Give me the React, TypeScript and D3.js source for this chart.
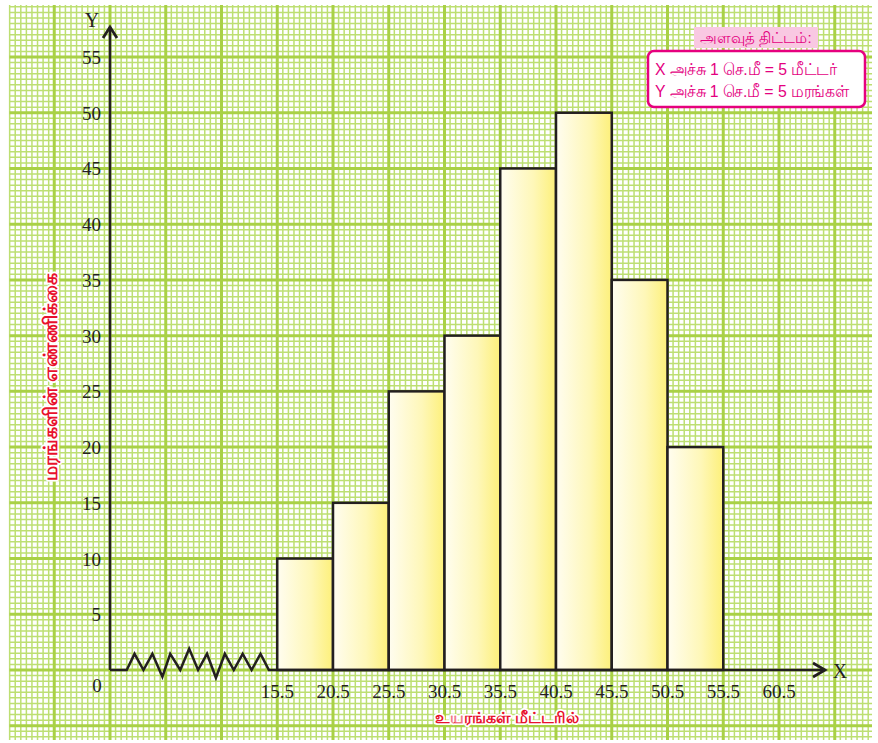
import React from 'react';
import * as d3 from 'd3';

// class intervals (heights in metres) and number of trees
const classStarts = [15.5, 20.5, 25.5, 30.5, 35.5, 40.5, 45.5, 50.5];
const classEnds = [20.5, 25.5, 30.5, 35.5, 40.5, 45.5, 50.5, 55.5];
const treeCounts = [10, 15, 25, 30, 45, 50, 35, 20];

const xTickLabels = ['15.5', '20.5', '25.5', '30.5', '35.5', '40.5', '45.5', '50.5', '55.5', '60.5'];
const yTickValues = [5, 10, 15, 20, 25, 30, 35, 40, 45, 50, 55];

// kink (broken axis) drawn between origin and 15.5, in axis units
const kinkX = [0.5, 2.0, 2.7, 3.5, 4.3, 5.2, 5.9, 6.8, 7.6, 8.4, 9.2, 10.0, 10.8, 11.6, 12.4, 13.2, 14.0, 14.75, 15.5];
const kinkY = [0, 0, 1.45, 0, 1.45, -0.6, 1.45, 0, 1.9, 0, 1.45, -0.7, 1.45, 0, 1.45, 0, 1.45, 0, 0];

const legendTitle = 'அளவுத் திட்டம்:';
const legendLines = ['X அச்சு 1 செ.மீ = 5 மீட்டர்', 'Y அச்சு 1 செ.மீ = 5 மரங்கள்'];
const xTitle = 'உயரங்கள் மீட்டரில்';
const yTitle = 'மரங்களின் எண்ணிக்கை';

const W = 878;
const H = 743;

export default function App() {
  // axis scales (origin stands for 0.5 on x, the gap up to 15.5 is the kink)
  const x = d3.scaleLinear().domain([0.5, 60.5]).range([110, 779]);
  const y = d3.scaleLinear().domain([0, 55]).range([670, 57]);

  // graph-paper grid, 10 minor lines per cm (= 5 units)
  const gx0 = x.invert(9.5), gx1 = x.invert(872);
  const gy0 = y.invert(740), gy1 = y.invert(5);
  const vLines = d3.range(Math.ceil(gx0 / 0.5) * 0.5, gx1, 0.5).map(v => +(v.toFixed(2)));
  const hLines = d3.range(Math.ceil(gy0 / 0.5) * 0.5, gy1, 0.5).map(v => +(v.toFixed(2)));
  const isMajorX = v => Math.abs(((v - 0.5) / 5) - Math.round((v - 0.5) / 5)) < 1e-6;
  const isMajorY = v => Math.abs((v / 5) - Math.round(v / 5)) < 1e-6;

  const kinkPath = d3.line()(kinkX.map((v, i) => [x(v), y(kinkY[i])]));

  const serif = '"Liberation Serif", "DejaVu Serif", serif';
  const sans = 'Arimo, "Liberation Sans", "Noto Sans", sans-serif';

  return (
    <svg width={W} height={H} style={{ position: 'absolute', left: 0, top: 0, background: '#fff' }}>
      <defs>
        <linearGradient id="barFill" x1="0" x2="1" y1="0" y2="0">
          <stop offset="0%" stopColor="#fffdf0" />
          <stop offset="60%" stopColor="#fef7b8" />
          <stop offset="100%" stopColor="#fdf07a" />
        </linearGradient>
      </defs>

      {/* grid */}
      <g>
        {vLines.filter(v => !isMajorX(v)).map(v => (
          <line key={'vm' + v} x1={x(v)} x2={x(v)} y1={5} y2={740} stroke="#bddf72" strokeWidth={1.5} />
        ))}
        {hLines.filter(v => !isMajorY(v)).map(v => (
          <line key={'hm' + v} x1={9.5} x2={872} y1={y(v)} y2={y(v)} stroke="#bddf72" strokeWidth={1.5} />
        ))}
        {vLines.filter(isMajorX).map(v => (
          <line key={'vM' + v} x1={x(v)} x2={x(v)} y1={5} y2={740} stroke="#a9d146" strokeWidth={3} />
        ))}
        {hLines.filter(isMajorY).map(v => (
          <line key={'hM' + v} x1={9.5} x2={872} y1={y(v)} y2={y(v)} stroke="#a9d146" strokeWidth={3} />
        ))}
      </g>

      {/* bars */}
      {treeCounts.map((c, i) => (
        <rect
          key={i}
          x={x(classStarts[i])}
          y={y(c)}
          width={x(classEnds[i]) - x(classStarts[i])}
          height={y(0) - y(c)}
          fill="url(#barFill)"
          stroke="#231f20"
          strokeWidth={2.5}
        />
      ))}

      {/* axes */}
      <line x1={x(0.5)} x2={x(0.5)} y1={y(0)} y2={27} stroke="#231f20" strokeWidth={2.5} />
      <path d={`M${x(0.5) - 7},${38} L${x(0.5)},${27} L${x(0.5) + 7},${38}`} fill="none" stroke="#231f20" strokeWidth={2.8} />
      <path d={kinkPath} fill="none" stroke="#231f20" strokeWidth={2.5} strokeLinejoin="miter" />
      <line x1={x(15.5)} x2={824} y1={y(0)} y2={y(0)} stroke="#231f20" strokeWidth={2.5} />
      <path d={`M${813},${663} L${825},${y(0)} L${813},${677}`} fill="none" stroke="#231f20" strokeWidth={2.8} />

      <text x={92} y={27} fontFamily={serif} fontSize={20} fill="#231f20" textAnchor="middle">Y</text>
      <text x={840} y={678} fontFamily={serif} fontSize={20} fill="#231f20" textAnchor="middle">X</text>

      {/* y ticks */}
      {yTickValues.map(v => (
        <text key={v} x={101} y={y(v) + 7} fontFamily={serif} fontSize={19} fill="#231f20" textAnchor="end">{v}</text>
      ))}
      <text x={97} y={692} fontFamily={serif} fontSize={19} fill="#231f20" textAnchor="middle">0</text>

      {/* x ticks */}
      {xTickLabels.map(t => (
        <text key={t} x={x(+t)} y={698} fontFamily={serif} fontSize={19} fill="#231f20" textAnchor="middle">{t}</text>
      ))}

      {/* axis titles */}
      <text
        x={507} y={723} textAnchor="middle" fontFamily={sans} fontSize={16} fontWeight="bold" fill="#e8112d"
        stroke="#fff" strokeWidth={3.5} paintOrder="stroke" strokeLinejoin="round"
      >{xTitle}</text>
      <text
        transform={`translate(57, 377) rotate(-90)`} textAnchor="middle" fontFamily={sans} fontSize={19} fontWeight="bold" fill="#e8112d"
        stroke="#fff" strokeWidth={3.5} paintOrder="stroke" strokeLinejoin="round"
      >{yTitle}</text>

      {/* legend */}
      <rect x={694} y={27} width={124} height={21} fill="#f9c8e2" />
      <text x={756} y={43} textAnchor="middle" fontFamily={sans} fontSize={15} fill="#e4007f">{legendTitle}</text>
      <rect x={648} y={51} width={217} height={56} rx={6} fill="#fff" stroke="#e6007e" strokeWidth={2.5} />
      {legendLines.map((l, i) => (
        <text key={i} transform={`translate(655, ${75 + i * 22}) scale(0.93, 1)`} fontFamily={sans} fontSize={17} fill="#e4007f">{l}</text>
      ))}
    </svg>
  );
}
